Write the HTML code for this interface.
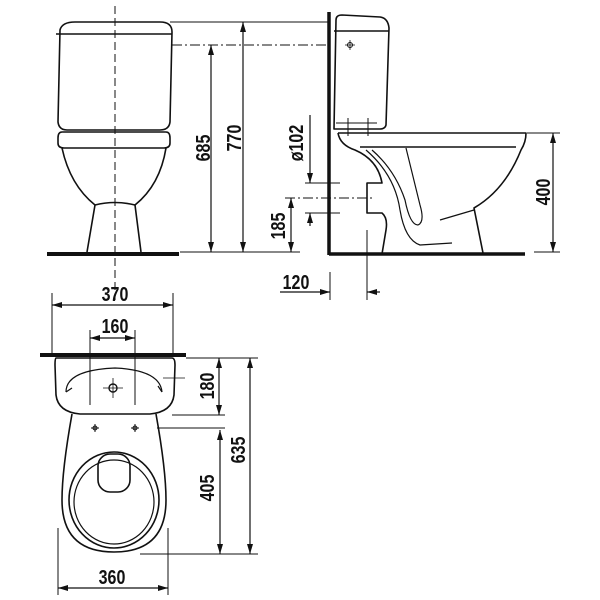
<!DOCTYPE html>
<html><head><meta charset="utf-8"><style>
html,body{margin:0;padding:0;background:#fff;width:600px;height:600px;overflow:hidden}
text{font-family:"Liberation Sans",sans-serif;font-weight:bold;font-size:20px;fill:#111}
</style></head><body>
<svg width="600" height="600" viewBox="0 0 600 600" xmlns="http://www.w3.org/2000/svg">
<defs>
<marker id="a" viewBox="0 0 10 6" refX="10" refY="3" markerWidth="10" markerHeight="6" orient="auto-start-reverse" markerUnits="userSpaceOnUse"><path d="M0,0L10,3L0,6z" fill="#111"/></marker>
</defs>
<g fill="none" stroke="#111" stroke-width="1.6" stroke-linejoin="round">
<path d="M60,30 Q62,22 75,22 L160,22 Q172,22 172,32 L170,122 Q169,130 160,130 L67,130 Q59,130 58,122 Z"/>
<line x1="56" y1="34" x2="172" y2="34"/>
<path d="M62,132 L166,132 Q170,132 170,138 L170,143 Q170,148 164,148 L64,148 Q58,148 58,143 L58,138 Q58,132 62,132 Z"/>
<path d="M62,148 Q70,185 95,205 L87,252"/>
<path d="M166,148 Q160,185 135,205 L141,252"/>
<path d="M95,205 Q115,200 135,205"/>
<line x1="47" y1="254" x2="179" y2="254" stroke-width="4"/>
<line x1="115" y1="6" x2="115" y2="300" stroke-width="1" stroke-dasharray="8,4"/>
<line x1="170" y1="22" x2="330" y2="22" stroke-width="1"/>
<line x1="172" y1="45" x2="330" y2="45" stroke-width="1" stroke-dasharray="10,3,2,3"/>
<line x1="180" y1="252" x2="300" y2="252" stroke-width="1"/>
<line x1="211" y1="45" x2="211" y2="252" stroke-width="1.2" marker-start="url(#a)" marker-end="url(#a)"/>
<line x1="243" y1="22" x2="243" y2="252" stroke-width="1.2" marker-start="url(#a)" marker-end="url(#a)"/>
<line x1="291" y1="198" x2="291" y2="252" stroke-width="1.2" marker-start="url(#a)" marker-end="url(#a)"/>
<line x1="329" y1="12" x2="329" y2="255" stroke-width="3.5"/>
<line x1="329" y1="254" x2="525" y2="254" stroke-width="3.5"/>
<path d="M336,20 Q336,15 342,15 L380,17 Q388,18 389,28 L386,125 Q385,129 380,129 L334,129 Z"/>
<line x1="334" y1="31" x2="389" y2="31"/>
<circle cx="350" cy="45" r="2.5" stroke-width="1"/>
<path d="M345,45h10M350,40v10" stroke-width="0.8"/>
<path d="M336,123 H377 M348,118 V136 M368,118 V136" stroke-width="1"/>
<path d="M338,133 L526,133 Q526,142 521,150 Q505,190 474,208 L483,253"/>
<line x1="360" y1="147" x2="516" y2="147"/>
<path d="M338,133 Q340,145 355,150 Q378,160 382,183 L367,183 L367,213 L382,213 Q388,218 386,230 L382,254"/>
<path d="M366,150 Q395,175 400,210 Q405,240 420,245 L452,243" stroke-width="1.2"/>
<path d="M372,150 Q395,170 405,200 Q410,225 418,225 Q425,222 420,205 L406,148" stroke-width="1.2"/>
<path d="M440,220 L474,210" stroke-width="1.2"/>
<line x1="553" y1="133" x2="553" y2="252" stroke-width="1.2" marker-start="url(#a)" marker-end="url(#a)"/>
<line x1="527" y1="133" x2="560" y2="133" stroke-width="1"/>
<line x1="534" y1="252" x2="560" y2="252" stroke-width="1"/>
<line x1="310" y1="115" x2="310" y2="183" stroke-width="1.2" marker-end="url(#a)"/>
<line x1="310" y1="226" x2="310" y2="213" stroke-width="1.2" marker-end="url(#a)"/>
<line x1="305" y1="183" x2="340" y2="183" stroke-width="1"/>
<line x1="305" y1="213" x2="340" y2="213" stroke-width="1"/>
<line x1="285" y1="198" x2="375" y2="198" stroke-width="1" stroke-dasharray="10,3,2,3"/>
<line x1="330" y1="272" x2="330" y2="300" stroke-width="1"/>
<line x1="367" y1="230" x2="367" y2="300" stroke-width="1"/>
<line x1="280" y1="292" x2="330" y2="292" stroke-width="1.2" marker-end="url(#a)"/>
<line x1="380" y1="292" x2="367" y2="292" stroke-width="1.2" marker-end="url(#a)"/>
<line x1="40" y1="355" x2="186" y2="355" stroke-width="4"/>
<path d="M56,358 L172,358 Q175,358 175,365 L174,395 Q172,412 150,414 L80,414 Q58,412 56,395 L55,365 Q55,358 56,358 Z"/>
<path d="M66,392 Q66,370 115,368 Q160,370 162,392" stroke-width="1.2"/>
<path d="M66,392 L72,388 M162,392 L158,386" stroke-width="1.2"/>
<circle cx="113" cy="388" r="4" stroke-width="1.4"/>
<path d="M103,388h20M113,378v20" stroke-width="0.8"/>
<path d="M72,414 Q62,470 62,500 Q62,552 114,552 Q166,552 166,500 Q166,470 156,414"/>
<ellipse cx="114" cy="500" rx="45" ry="48"/>
<ellipse cx="114" cy="502" rx="40" ry="42" stroke-width="1.2"/>
<rect x="98" y="454" width="32" height="38" rx="12"/>
<path d="M91,428h8M95,424v8M131,428h8M135,424v8" stroke-width="1"/>
<circle cx="95" cy="428" r="2" stroke-width="1"/>
<circle cx="135" cy="428" r="2" stroke-width="1"/>
<line x1="52" y1="293" x2="52" y2="355" stroke-width="1"/>
<line x1="173" y1="293" x2="173" y2="355" stroke-width="1"/>
<line x1="52" y1="305" x2="173" y2="305" stroke-width="1.2" marker-start="url(#a)" marker-end="url(#a)"/>
<line x1="90" y1="330" x2="90" y2="405" stroke-width="1"/>
<line x1="135" y1="330" x2="135" y2="405" stroke-width="1"/>
<line x1="90" y1="338" x2="135" y2="338" stroke-width="1.2" marker-start="url(#a)" marker-end="url(#a)"/>
<line x1="186" y1="358" x2="258" y2="358" stroke-width="1"/>
<line x1="163" y1="378" x2="185" y2="378" stroke-width="0.8"/>
<line x1="172" y1="415" x2="225" y2="415" stroke-width="1"/>
<line x1="157" y1="428" x2="225" y2="428" stroke-width="1"/>
<line x1="140" y1="554" x2="258" y2="554" stroke-width="1"/>
<line x1="219" y1="358" x2="219" y2="415" stroke-width="1.2" marker-start="url(#a)" marker-end="url(#a)"/>
<line x1="220" y1="430" x2="220" y2="554" stroke-width="1.2" marker-start="url(#a)" marker-end="url(#a)"/>
<line x1="250" y1="358" x2="250" y2="554" stroke-width="1.2" marker-start="url(#a)" marker-end="url(#a)"/>
<line x1="58" y1="528" x2="58" y2="595" stroke-width="1"/>
<line x1="168" y1="528" x2="168" y2="595" stroke-width="1"/>
<line x1="58" y1="588" x2="168" y2="588" stroke-width="1.2" marker-start="url(#a)" marker-end="url(#a)"/>
</g>
<text transform="translate(210,148) rotate(-90) scale(0.8,1)" text-anchor="middle">685</text>
<text transform="translate(241,138) rotate(-90) scale(0.8,1)" text-anchor="middle">770</text>
<text transform="translate(285,226) rotate(-90) scale(0.8,1)" text-anchor="middle">185</text>
<text transform="translate(303,143) rotate(-90) scale(0.8,1)" text-anchor="middle">ø102</text>
<text transform="translate(550,192) rotate(-90) scale(0.8,1)" text-anchor="middle">400</text>
<text transform="translate(296,289) scale(0.8,1)" text-anchor="middle">120</text>
<text transform="translate(115,301) scale(0.8,1)" text-anchor="middle">370</text>
<text transform="translate(115,333) scale(0.8,1)" text-anchor="middle">160</text>
<text transform="translate(112,584) scale(0.8,1)" text-anchor="middle">360</text>
<text transform="translate(214,386) rotate(-90) scale(0.8,1)" text-anchor="middle">180</text>
<text transform="translate(214,488) rotate(-90) scale(0.8,1)" text-anchor="middle">405</text>
<text transform="translate(245,450) rotate(-90) scale(0.8,1)" text-anchor="middle">635</text>
</svg>
</body></html>
